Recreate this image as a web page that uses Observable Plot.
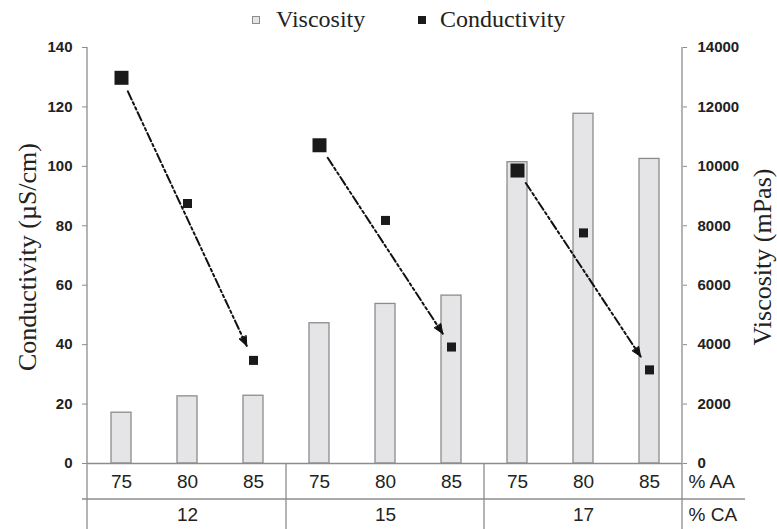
<!DOCTYPE html>
<html><head><meta charset="utf-8">
<script src="https://cdn.jsdelivr.net/npm/d3@7"></script>
<script src="https://cdn.jsdelivr.net/npm/@observablehq/plot@0.6"></script>
<style>body{margin:0;background:#fff} #chart{width:777px}</style>
</head><body><div id="chart"></div>
<script>
// ---- data ----
const caGroups = ["12", "15", "17"];            // % CA
const aaLevels = ["75", "80", "85"];            // % AA
const viscosity = [1710, 2260, 2280, 4720, 5370, 5650, 10140, 11770, 10250]; // mPas
const conductivity = [129.8, 87.5, 34.7, 107.1, 81.8, 39.2, 98.6, 77.6, 31.5]; // µS/cm
const yTicks = [0, 20, 40, 60, 80, 100, 120, 140];

// ---- derived tables ----
const keys = [];
caGroups.forEach(ca => aaLevels.forEach(aa => keys.push(ca + "|" + aa)));
const rows = keys.map((k, i) => ({key: k, ca: k.split("|")[0], aa: k.split("|")[1], visc: viscosity[i], cond: conductivity[i]}));
const trends = caGroups.map(ca => {
  const g = rows.filter(r => r.ca === ca);
  return {x1: g[0].key, y1: g[0].cond, x2: g[g.length - 1].key, y2: g[g.length - 1].cond};
});
const groupLabels = caGroups.map(ca => {
  const g = rows.filter(r => r.ca === ca);
  return {key: g[Math.floor(g.length / 2)].key, ca};
});

const W = 777, H = 493;
const serif = "'Liberation Serif', 'Times New Roman', Times, serif";
const sans = "'Liberation Sans', Arial, sans-serif";
const axisGray = "#8c8c8c";

// legend above the plot
const legend = d3.create("svg").attr("width", W).attr("height", 36).style("display", "block");
legend.append("rect").attr("x", 252.5).attr("y", 16.5).attr("width", 7).attr("height", 7)
  .attr("fill", "#e5e5e7").attr("stroke", axisGray).attr("stroke-width", 1);
legend.append("text").attr("x", 276).attr("y", 27).style("font-family", serif).style("font-size", "24px")
  .attr("fill", "#222").text("Viscosity");
legend.append("rect").attr("x", 418).attr("y", 16).attr("width", 8).attr("height", 8).attr("fill", "#1a1a1a");
legend.append("text").attr("x", 440).attr("y", 27).style("font-family", serif).style("font-size", "24px")
  .attr("fill", "#222").text("Conductivity");

const tableFont = {fontSize: 19, fontWeight: "normal", fill: "#222"};

const chart = Plot.plot({
  width: W, height: H,
  marginLeft: 87, marginRight: 95, marginTop: 11, marginBottom: 66,
  style: {fontFamily: sans, fontSize: "15px", fontWeight: "bold", color: "#222", background: "#fff", overflow: "visible"},
  x: {type: "band", domain: keys, padding: 0, axis: null},
  y: {domain: [0, 140]},
  marks: [
    Plot.barY(rows, {x: "key", y: d => d.visc / 100, fill: "#e5e5e7", stroke: axisGray, strokeWidth: 1.3, insetLeft: 23, insetRight: 23}),
    Plot.arrow(trends, {x1: "x1", y1: "y1", x2: "x2", y2: "y2", stroke: "#111", strokeWidth: 2,
      strokeDasharray: "9,3,2.5,3,2.5,3", insetStart: 15, insetEnd: 16, headLength: 7.5, headAngle: 45}),
    Plot.dot(rows.filter(d => d.aa === aaLevels[0]), {x: "key", y: "cond", symbol: "square", r: 7.9, fill: "#1a1a1a"}),
    Plot.dot(rows.filter(d => d.aa !== aaLevels[0]), {x: "key", y: "cond", symbol: "square", r: 5.1, fill: "#1a1a1a"}),
    Plot.axisY({anchor: "left", ticks: yTicks, tickSize: 5, tickPadding: 10, stroke: axisGray, label: null}),
    Plot.axisY({anchor: "right", ticks: yTicks, tickFormat: d => String(d * 100), tickSize: 4, tickPadding: 11, stroke: axisGray, label: null}),
    Plot.ruleY([0], {stroke: axisGray, strokeWidth: 1.3}),
    Plot.text(rows, {x: "key", text: "aa", frameAnchor: "bottom", dy: 24, ...tableFont}),
    Plot.text(groupLabels, {x: "key", text: "ca", frameAnchor: "bottom", dy: 57, ...tableFont}),
    Plot.text(["% AA"], {text: d => d, frameAnchor: "bottom-right", textAnchor: "start", dx: 6, dy: 24, ...tableFont}),
    Plot.text(["% CA"], {text: d => d, frameAnchor: "bottom-right", textAnchor: "start", dx: 6, dy: 57, ...tableFont})
  ]
});

// ---- table lines, axis lines, titles, arrowheads ----
const svg = d3.select(chart);
const xs = chart.scale("x"), ys = chart.scale("y");
const xL = xs.range[0], xR = xs.range[1];
const yTop = ys.apply(140), yBase = ys.apply(0);
const lines = svg.append("g").attr("stroke", axisGray).attr("stroke-width", 1.3);
lines.append("line").attr("x1", xL).attr("x2", xL).attr("y1", yTop).attr("y2", H);
lines.append("line").attr("x1", xR).attr("x2", xR).attr("y1", yTop).attr("y2", H);
caGroups.slice(1).forEach(ca => {
  const xd = xs.apply(ca + "|" + aaLevels[0]);
  lines.append("line").attr("x1", xd).attr("x2", xd).attr("y1", yBase).attr("y2", H);
});
lines.append("line").attr("x1", xL - 5).attr("x2", 745).attr("y1", yBase + 36).attr("y2", yBase + 36);

const yMid = (yTop + yBase) / 2 + 2;
svg.append("text").attr("transform", `translate(36,${yMid}) rotate(-90)`).attr("text-anchor", "middle")
  .style("font-family", serif).style("font-size", "26px").style("font-weight", "normal").attr("fill", "#222")
  .text("Conductivity (µS/cm)");
svg.append("text").attr("transform", `translate(771,${yMid}) rotate(-90)`).attr("text-anchor", "middle")
  .style("font-family", serif).style("font-size", "26px").style("font-weight", "normal").attr("fill", "#222")
  .text("Viscosity (mPas)");

// solid filled arrowheads
svg.selectAll('g[aria-label="arrow"] path').each(function () {
  const d = this.getAttribute("d");
  if (!d) return;
  const k = d.indexOf("M", 1);
  if (k > 0) {
    const head = this.cloneNode();
    head.setAttribute("d", d.slice(k) + "Z");
    head.setAttribute("stroke-dasharray", "none");
    head.setAttribute("fill", "#111");
    head.setAttribute("stroke-width", "1");
    head.setAttribute("stroke", "#111");
    this.setAttribute("d", d.slice(0, k));
    this.parentNode.appendChild(head);
  }
});

const root = document.getElementById("chart");
root.appendChild(legend.node());
root.appendChild(chart);
</script>
</body></html>
